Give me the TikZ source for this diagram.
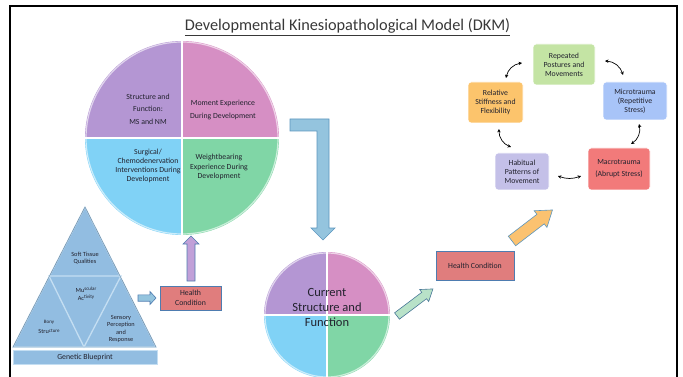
\documentclass[tikz,border=0pt]{standalone}
\usepackage{fontspec}
\setmainfont{Carlito}
\usetikzlibrary{arrows.meta}

\definecolor{qpurple}{RGB}{180,150,211}
\definecolor{qpink}{RGB}{214,143,196}
\definecolor{qblue}{RGB}{128,210,246}
\definecolor{qgreen}{RGB}{128,214,166}
\definecolor{pyrfill}{RGB}{146,189,225}
\definecolor{pyredge}{RGB}{196,222,242}
\definecolor{hcred}{RGB}{224,125,125}
\definecolor{hcedge}{RGB}{78,124,176}
\definecolor{bentfill}{RGB}{148,196,222}
\definecolor{bentedge}{RGB}{92,150,190}
\definecolor{upfill}{RGB}{193,160,216}
\definecolor{greenarrow}{RGB}{184,226,200}
\definecolor{orangearrow}{RGB}{251,194,112}
\definecolor{boxgreen}{RGB}{196,228,164}
\definecolor{boxorange}{RGB}{252,196,108}
\definecolor{boxblue}{RGB}{168,196,248}
\definecolor{boxlav}{RGB}{196,192,232}
\definecolor{boxred}{RGB}{242,122,122}
\definecolor{inktext}{RGB}{34,34,46}

% block arrow: style, start point, angle, length, shaft half-width, head half-width, head length
\newcommand\blockarrow[7]{%
  \begin{scope}[shift={#2},rotate=#3]
    \draw[#1] (0,-#5) -- ({#4-#7},-#5) -- ({#4-#7},-#6) -- (#4,0)
      -- ({#4-#7},#6) -- ({#4-#7},#5) -- (0,#5) -- cycle;
  \end{scope}}

\tikzset{
  txt/.style={text=inktext, align=center, inner sep=0pt},
  qtext/.style={txt, font=\fontsize{7.8}{9}\selectfont},
  ptext/.style={txt, font=\fontsize{6.3}{7.5}\selectfont},
  cbox/.style={txt, rounded corners=3pt, font=\fontsize{7.8}{9}\selectfont,
    draw=white, line width=0.8pt},
  hcbox/.style={txt, fill=hcred, draw=hcedge, line width=0.7pt,
    font=\fontsize{7.8}{10}\selectfont},
  cyc/.style={{Stealth[length=3.4pt,width=3.4pt]}-{Stealth[length=3.4pt,width=3.4pt]},
    line width=0.7pt, bend left=35},
  divider/.style={white, line width=1.6pt},
  rim/.style={white, opacity=0.6, line width=1.2pt},
}

\begin{document}
\begin{tikzpicture}[x=1pt,y=-1pt]
\useasboundingbox (0,0) rectangle (683,377);
\clip (0,0) rectangle (683,377);

% frame
\draw[line width=2.4pt] (10,377) -- (10,6) -- (677,6) -- (677,377);

% title
\node[txt, anchor=base, font=\fontsize{16.3}{19}\selectfont, text=black!78] (title)
  at (347.5,31) {\underline{Developmental Kinesiopathological Model (DKM)}};

% ---- large pie: developmental influences ----
\begin{scope}
  \clip (182,138) circle[radius=97];
  \fill[qpurple] (84,40) rectangle (182,138);
  \fill[qpink]   (182,40) rectangle (280,138);
  \fill[qblue]   (84,138) rectangle (182,236);
  \fill[qgreen]  (182,138) rectangle (280,236);
\end{scope}
\draw[divider] (182,41) -- (182,235) (85,138) -- (279,138);
\draw[rim] (182,138) circle[radius=96];

\node[qtext, font=\fontsize{7.8}{12.5}\selectfont] (sf) at (148,109) {Structure and\\Function:\\MS and NM};
\node[qtext, font=\fontsize{7.8}{13}\selectfont] (moment) at (223,109.5) {Moment Experience\\During Development};
\node[qtext, font=\fontsize{7.8}{9}\selectfont] (surg) at (148,166) {Surgical/\\Chemodenervation\\Interventions During\\Development};
\node[qtext, font=\fontsize{7.8}{9.5}\selectfont] (wb) at (219,167) {Weightbearing\\Experience During\\Development};

% bent arrow towards current state
\draw[fill=bentfill, draw=bentedge, line width=0.7pt]
  (290,119) -- (329,119) -- (329,228) -- (335,228) -- (323,240) -- (311,228)
  -- (317,228) -- (317,131) -- (290,131) -- cycle;

% ---- small pie: current structure and function ----
\begin{scope}
  \clip (327,315) circle[radius=63];
  \fill[qpurple] (263,251) rectangle (327,315);
  \fill[qpink]   (327,251) rectangle (391,315);
  \fill[qblue]   (263,315) rectangle (327,379);
  \fill[qgreen]  (327,315) rectangle (391,379);
\end{scope}
\draw[divider] (327,252) -- (327,378) (264,315) -- (390,315);
\draw[rim] (327,315) circle[radius=62];
\node[txt, font=\fontsize{12.5}{15}\selectfont] (current) at (327,307) {Current\\Structure and\\Function};

% ---- pyramid: genetic blueprint ----
\coordinate (apex) at (85,207);
\coordinate (bl) at (13,347);
\coordinate (br) at (156,347);
\coordinate (ml) at (49,276);
\coordinate (mr) at (121,276);
\coordinate (mb) at (84,347);
\fill[pyrfill] (apex) -- (br) -- (bl) -- cycle;
\draw[pyredge, line width=1.3pt] (ml) -- (mr) -- (mb) -- cycle;
\draw[pyredge, line width=1.1pt] (apex) -- (br) -- (bl) -- cycle;
\draw[pyrfill!70!black, line width=0.4pt] (apex) -- (br) -- (bl) -- cycle;
\node[txt, fill=pyrfill, draw=pyredge, line width=0.8pt, minimum width=144pt, minimum height=14pt,
  font=\fontsize{7.8}{9}\selectfont] (gene) at (85,357) {Genetic Blueprint};

\node[ptext] (soft) at (85,258) {Soft Tissue\\Qualities};
\node[ptext] (musc) at (86,294) {Mu\raisebox{2pt}{\fontsize{5}{6}\selectfont scular}\\Ac\raisebox{2pt}{\fontsize{5}{6}\selectfont tivity}};
\node[ptext] (bony) at (49,327) {\raisebox{2pt}{\fontsize{5}{6}\selectfont Bony}\\Stru\raisebox{1pt}{\fontsize{5}{6}\selectfont cture}};
\node[ptext] (sens) at (121,329) {Sensory\\Perception\\and\\Response};

% ---- health condition (early) ----
\node[hcbox, minimum width=61pt, minimum height=24pt] (hc1) at (190.5,298) {Health\\Condition};
\blockarrow{fill=bentfill, draw=hcedge, line width=0.6pt}{(138,298)}{0}{18}{3.2}{6.5}{6}
\blockarrow{fill=upfill, draw=hcedge, line width=0.6pt}{(191,281)}{90}{45}{4}{8}{8}

% ---- health condition (later) ----
\blockarrow{fill=greenarrow, draw=bentedge!80!black, line width=0.6pt}{(397,316)}{37}{45}{4}{7.5}{11}
\node[hcbox, minimum width=78pt, minimum height=29pt] (hc2) at (475,265.5) {Health Condition};
\blockarrow{fill=orangearrow, draw=bentedge, line width=0.6pt}{(512,241)}{37.5}{51}{6}{10.5}{15}

% ---- movement cycle ----
\node[cbox, fill=boxgreen, minimum width=62pt, minimum height=41pt] (rep) at (564,64.5) {Repeated\\Postures and\\Movements};
\node[cbox, fill=boxorange, minimum width=55pt, minimum height=41pt] (rel) at (495.5,102.5) {Relative\\Stiffness and\\Flexibility};
\node[cbox, fill=boxblue, minimum width=64pt, minimum height=38pt] (micro) at (635,101) {Microtrauma\\(Repetitive\\Stress)};
\node[cbox, fill=boxred, minimum width=62pt, minimum height=42pt, font=\fontsize{7.8}{12}\selectfont] (macro) at (619,169) {Macrotrauma\\(Abrupt Stress)};
\node[cbox, fill=boxlav, minimum width=54pt, minimum height=37pt] (hab) at (522,171.5) {Habitual\\Patterns of\\Movement};

\coordinate (relA) at (506,78);  \coordinate (repA) at (522,63);
\coordinate (repB) at (605,61);  \coordinate (micA) at (623,75);
\coordinate (micB) at (639,124); \coordinate (macA) at (631,144);
\coordinate (macB) at (581,176); \coordinate (habA) at (558,176);
\coordinate (habB) at (511,147); \coordinate (relB) at (499,129);
\draw[cyc] (relA) to (repA);
\draw[cyc] (repB) to (micA);
\draw[cyc] (micB) to (macA);
\draw[cyc, bend left=20] (macB) to (habA);
\draw[cyc] (habB) to (relB);

\end{tikzpicture}
\end{document}
